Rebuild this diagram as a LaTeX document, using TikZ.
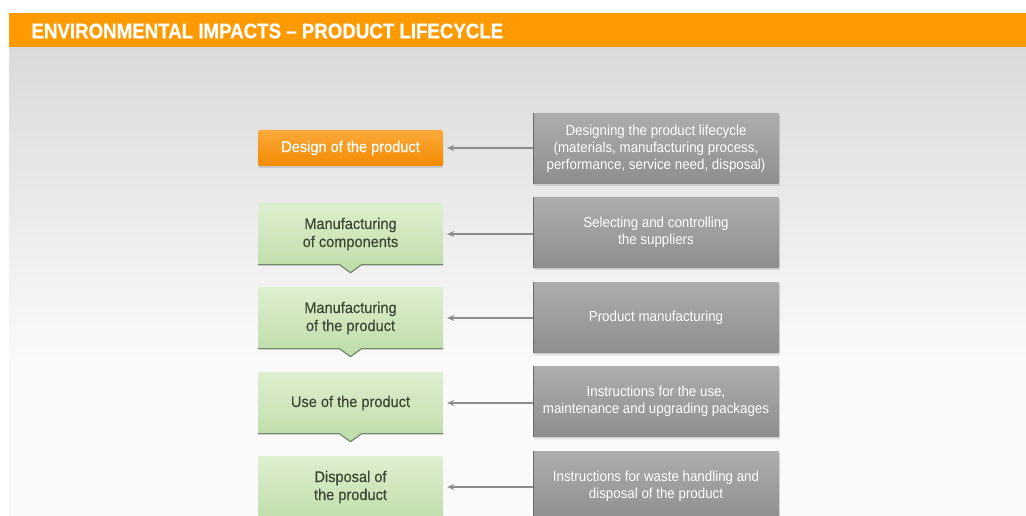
\documentclass[tikz,border=0pt]{standalone}
\usepackage{fontspec}
\setmainfont{Liberation Sans}[FakeStretch=0.92]
\newfontfamily\stagefont{Liberation Sans}[FakeStretch=0.94,FakeBold=0.4,Ligatures=TeX]
\newfontfamily\titlefont{Liberation Sans Bold}[FakeStretch=0.89,FakeBold=0.6,Ligatures=TeX]
\usetikzlibrary{positioning,shadows,arrows.meta}
\definecolor{hdorange}{HTML}{FF9A00}
\definecolor{bgtop}{HTML}{DADADA}
\definecolor{bgbot}{HTML}{FAFAFA}
\definecolor{ortop}{HTML}{FBAA3C}
\definecolor{orbot}{HTML}{F38A00}
\definecolor{grtop}{HTML}{DDEFD0}
\definecolor{grbot}{HTML}{C2DEAC}
\definecolor{gredge}{HTML}{74866B}
\definecolor{grtext}{HTML}{3A4732}
\definecolor{gytop}{HTML}{ADADAD}
\definecolor{gybot}{HTML}{8E8E8E}
\definecolor{gyedge}{HTML}{6A6A6A}
\definecolor{linkgray}{HTML}{8C8C8C}
\begin{document}
\begin{tikzpicture}[x=1pt,y=-1pt,line join=round,>={Stealth[length=7pt,width=6pt]},
	stage/.style={minimum width=185pt,minimum height=61pt,inner sep=0pt,align=center,
		text=grtext,font=\stagefont\fontsize{15.5}{18}\selectfont,top color=grtop,bottom color=grbot},
	design/.style={minimum width=185pt,minimum height=36pt,inner sep=0pt,rounded corners=1.5pt,
		text=white,font=\stagefont\fontsize{15.5}{18}\selectfont,top color=ortop,bottom color=orbot,
		drop shadow={shadow xshift=0pt,shadow yshift=-2pt,opacity=0.3}},
	task/.style={minimum width=246pt,minimum height=71pt,inner sep=0pt,align=center,rounded corners=1pt,
		text=white,font=\fontsize{14.5}{17}\selectfont,top color=gytop,bottom color=gybot,
		drop shadow={shadow xshift=1pt,shadow yshift=-2pt,opacity=0.25}},
	link/.style={->,linkgray,line width=1.4pt,shorten >=4pt}]
	\useasboundingbox (0,0) rectangle (1026,516);
	% background and title bar
	\fill[white] (0,0) rectangle (1026,516);
	\shade[top color=bgtop,bottom color=bgbot] (9,47) rectangle (1026,360);
	\fill[bgbot] (9,360) rectangle (1026,516);
	\fill[hdorange] (9,13) rectangle (1026,47);
	\node[anchor=west,text=white,font=\titlefont\fontsize{21}{24}\selectfont] (title) at (28,31)
		{ENVIRONMENTAL IMPACTS – PRODUCT LIFECYCLE};
	% lifecycle stages
	\node[design] (design) at (350.5,148) {Design of the product};
	\node[stage] (comp) at (350.5,234) {Manufacturing\\of components};
	\node[stage] (manuf) at (350.5,318) {Manufacturing\\of the product};
	\node[stage] (use) at (350.5,403) {Use of the product};
	\node[stage] (disp) at (350.5,487) {Disposal of\\the product};
	\foreach \s in {comp,manuf,use}{
		\fill[grbot] ([xshift=-11pt]\s.south) -- ([yshift=-8pt]\s.south) -- ([xshift=11pt]\s.south) -- cycle;
		\draw[gredge,line width=1.2pt] (\s.south west) -- ([xshift=-11pt]\s.south) -- ([yshift=-8pt]\s.south)
			-- ([xshift=11pt]\s.south) -- (\s.south east);
	}
	% tasks
	\node[task] (t1) at (656,148.5) {Designing the product lifecycle\\(materials, manufacturing process,\\performance, service need, disposal)};
	\node[task] (t2) at (656,232.5) {Selecting and controlling\\the suppliers};
	\node[task] (t3) at (656,317.5) {Product manufacturing};
	\node[task] (t4) at (656,401.5) {Instructions for the use,\\maintenance and upgrading packages};
	\node[task] (t5) at (656,486.5) {Instructions for waste handling and\\disposal of the product};
	\foreach \t/\s in {t1/design,t2/comp,t3/manuf,t4/use,t5/disp}{
		\draw[gyedge,line width=1.5pt] ([xshift=0.75pt]\t.north west) -- ([xshift=0.75pt]\t.south west);
		\draw[link] (\t.west |- \s.east) -- (\s.east);
	}
\end{tikzpicture}
\end{document}
